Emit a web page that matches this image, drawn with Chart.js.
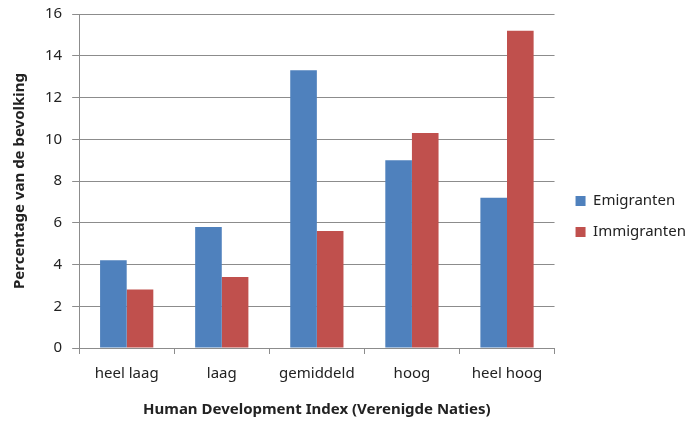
<!DOCTYPE html>
<html>
<head>
<meta charset="utf-8">
<script src="https://cdn.jsdelivr.net/npm/chart.js@4/dist/chart.umd.min.js"></script>
<style>
  html, body { margin: 0; padding: 0; background: #ffffff; }
  #wrap { width: 691px; height: 421px; }
</style>
</head>
<body>
<div id="wrap"><canvas id="chart" width="691" height="421"></canvas></div>
<script>
// Gegevens uit de grafiek
const categorieen = ["heel laag", "laag", "gemiddeld", "hoog", "heel hoog"];
const emigranten = [4.2, 5.8, 13.3, 9.0, 7.2];
const immigranten = [2.8, 3.4, 5.6, 10.3, 15.2];

const tekstKleur = "#222222";
const lijnKleur = "#8c8c8c";
const lettertype = "'Noto Sans', 'Open Sans', sans-serif";

const ctx = document.getElementById("chart").getContext("2d");

// schuift de legenda een paar pixels naar rechts
const legendaVerschuiving = {
    id: "legendaVerschuiving",
    afterLayout: function (chart) {
        if (chart.legend) {
            chart.legend.left += 5;
            chart.legend.right += 5;
        }
    },
};

const chart = new Chart(ctx, {
    type: "bar",
    data: {
        labels: categorieen,
        datasets: [
            {
                label: "Emigranten",
                data: emigranten,
                backgroundColor: "#4f81bd",
                categoryPercentage: 0.56,
                barPercentage: 1.0,
            },
            {
                label: "Immigranten",
                data: immigranten,
                backgroundColor: "#c0504d",
                categoryPercentage: 0.56,
                barPercentage: 1.0,
            },
        ],
    },
    plugins: [legendaVerschuiving],
    options: {
        responsive: false,
        animation: false,
        layout: {
            padding: { top: 0, right: 0, left: 11, bottom: 2 },
        },
        plugins: {
            tooltip: { enabled: false },
            legend: {
                position: "right",
                align: "center",
                // lege titel schuift de legenda iets omlaag
                title: {
                    display: true,
                    text: " ",
                    font: { size: 10 },
                    padding: 1,
                },
                labels: {
                    boxWidth: 10,
                    boxHeight: 10,
                    padding: 16,
                    color: tekstKleur,
                    font: { family: lettertype, size: 15 },
                },
            },
        },
        scales: {
            x: {
                grid: {
                    offset: true,
                    drawOnChartArea: false,
                    drawTicks: true,
                    tickLength: 6,
                    color: lijnKleur,
                },
                border: { color: lijnKleur },
                ticks: {
                    color: tekstKleur,
                    font: { family: lettertype, size: 15 },
                    padding: 11,
                },
                title: {
                    display: true,
                    text: "Human Development Index (Verenigde Naties)",
                    color: tekstKleur,
                    font: { family: lettertype, size: 15, weight: "bold" },
                    padding: { top: 7, bottom: 0 },
                },
            },
            y: {
                min: 0,
                max: 16,
                afterFit: function (scale) {
                    scale.paddingTop = 14;
                },
                ticks: {
                    stepSize: 2,
                    color: tekstKleur,
                    font: { family: lettertype, size: 15 },
                    padding: 10,
                },
                grid: {
                    color: lijnKleur,
                    tickLength: 7,
                },
                border: { color: lijnKleur },
                title: {
                    display: true,
                    text: "Percentage van de bevolking",
                    color: tekstKleur,
                    font: { family: lettertype, size: 15, weight: "bold" },
                    padding: { top: 0, bottom: 6 },
                },
            },
        },
    },
});
</script>
</body>
</html>
